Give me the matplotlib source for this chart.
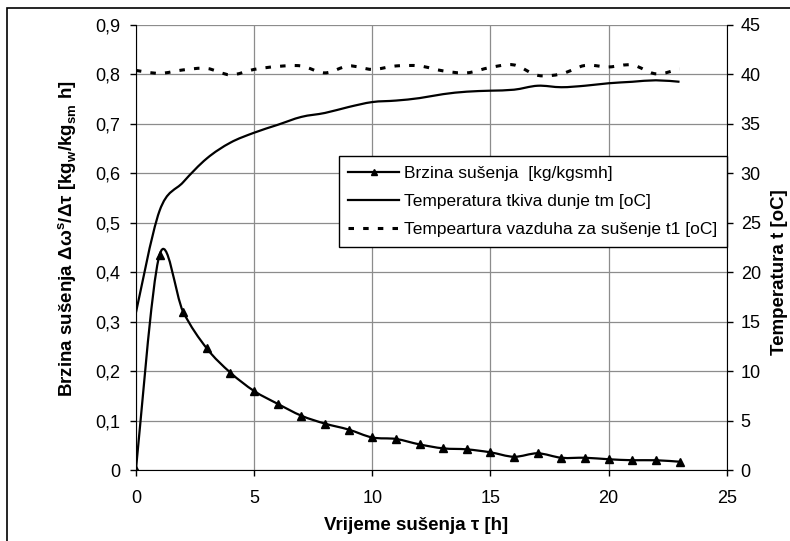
import matplotlib
matplotlib.use('Agg')
import matplotlib.pyplot as plt
import numpy as np
from matplotlib.path import Path
from matplotlib.patches import PathPatch, Rectangle
from matplotlib.lines import Line2D
from matplotlib.ticker import FuncFormatter, MultipleLocator

plt.rcParams['font.family'] = ['Liberation Sans', 'DejaVu Sans']
plt.rcParams['mathtext.fontset'] = 'custom'
plt.rcParams['mathtext.rm'] = 'Liberation Sans'
plt.rcParams['mathtext.bf'] = 'Liberation Sans:bold'

# drying time [h]
hours = list(range(24))
# drying rate [kg/kgsm h]
rate = [0, 0.435, 0.320, 0.246, 0.197, 0.160, 0.134, 0.110, 0.094, 0.082, 0.066, 0.063,
        0.052, 0.044, 0.042, 0.036, 0.027, 0.034, 0.025, 0.025, 0.022, 0.020, 0.020, 0.017]
# quince tissue temperature tm [oC]
t_tissue = [15.9, 26.2, 29.1, 31.5, 33.1, 34.1, 34.9, 35.7, 36.1, 36.7, 37.2, 37.35,
            37.6, 38.0, 38.25, 38.35, 38.45, 38.85, 38.7, 38.85, 39.1, 39.25, 39.4, 39.25]
# drying air temperature t1 [oC]
t_air = [40.4, 40.1, 40.45, 40.6, 39.95, 40.5, 40.8, 40.85, 40.15, 40.85, 40.5, 40.85,
         40.85, 40.35, 40.15, 40.7, 40.95, 39.9, 40.05, 40.9, 40.75, 40.95, 40.05, 40.55]

labels = ["Brzina sušenja  [kg/kgsmh]",
          "Temperatura tkiva dunje tm [oC]",
          "Tempeartura vazduha za sušenje t1 [oC]"]


# Excel-like smoothed line: bezier segments through the data points
def smooth_path(x, y):
    pts = np.column_stack([x, y]).astype(float)
    n = len(pts)
    verts = [pts[0]]
    codes = [Path.MOVETO]
    for i in range(n - 1):
        p0 = pts[max(i - 1, 0)]
        p1 = pts[i]
        p2 = pts[i + 1]
        p3 = pts[min(i + 2, n - 1)]
        verts += [p1 + (p2 - p0) / 6, p2 - (p3 - p1) / 6, p2]
        codes += [Path.CURVE4] * 3
    return Path(verts, codes)


fig = plt.figure(figsize=(7.9, 5.41), dpi=100)
ax = fig.add_axes([0.172, 0.131, 0.748, 0.823])
ax2 = ax.twinx()

lw = 1.6
dash = (0, (1.8, 3.0))
ax.add_patch(PathPatch(smooth_path(hours, rate), fill=False, color='black', lw=lw, zorder=3))
ax.plot(hours, rate, linestyle='none', marker='^', color='black', markersize=6, zorder=4)

ax2.add_patch(PathPatch(smooth_path(hours, t_tissue), fill=False, color='black', lw=lw))
ax2.add_patch(PathPatch(smooth_path(hours, t_air), fill=False, color='black', lw=2.2,
                        linestyle=dash))

ax.set_xlim(0, 25)
ax.set_ylim(0, 0.9)
ax2.set_ylim(0, 45)

ax.xaxis.set_major_locator(MultipleLocator(5))
ax.yaxis.set_major_locator(MultipleLocator(0.1))
ax2.yaxis.set_major_locator(MultipleLocator(5))
ax.yaxis.set_major_formatter(FuncFormatter(lambda v, p: '0' if abs(v) < 1e-9 else f'{v:.1f}'.replace('.', ',')))

ax.grid(True, color='#8c8c8c', lw=0.9)
ax.set_axisbelow(True)

for a in (ax, ax2):
    a.spines['top'].set_visible(False)
    a.tick_params(direction='out', length=4, width=1, labelsize=13, color='black')
ax.tick_params(axis='y', pad=7)
ax.tick_params(axis='x', pad=10)
ax2.tick_params(axis='y', pad=6)
ax.spines['right'].set_visible(False)
ax2.spines['left'].set_visible(False)
ax2.spines['bottom'].set_visible(False)

ax.set_ylabel('Brzina sušenja Δω$^{\\mathbf{s}}$/Δτ [kg$_{\\mathbf{w}}$/kg$_{\\mathbf{sm}}$ h]',
              fontsize=13.5, fontweight='bold')
ax.yaxis.set_label_coords(-0.096, 0.52)
ax.set_xlabel('Vrijeme sušenja τ [h]', fontsize=13.5, fontweight='bold')
ax.xaxis.set_label_coords(0.474, -0.105)
ax2.set_ylabel('Temperatura t [oC]', fontsize=13.5, fontweight='bold', rotation=90)
ax2.yaxis.set_label_coords(1.0745, 0.445)

handles = [Line2D([], [], color='black', lw=lw, marker='^', markersize=5),
           Line2D([], [], color='black', lw=lw),
           Line2D([], [], color='black', lw=2.2, linestyle=dash)]
leg = ax2.legend(handles, labels, loc='upper right', bbox_to_anchor=(1.0, 0.705),
                 fontsize=12.5, frameon=True, fancybox=False, framealpha=1, edgecolor='black',
                 handlelength=2.9, handletextpad=0.3, labelspacing=0.75, borderpad=0.55,
                 borderaxespad=0)
leg.get_frame().set_linewidth(1)

# outer chart border
fig.patches.append(Rectangle((0.009, -0.1), 2, 1.0852, transform=fig.transFigure,
                             fill=False, ec='black', lw=1.2))

fig.savefig('out.png', dpi=100)
